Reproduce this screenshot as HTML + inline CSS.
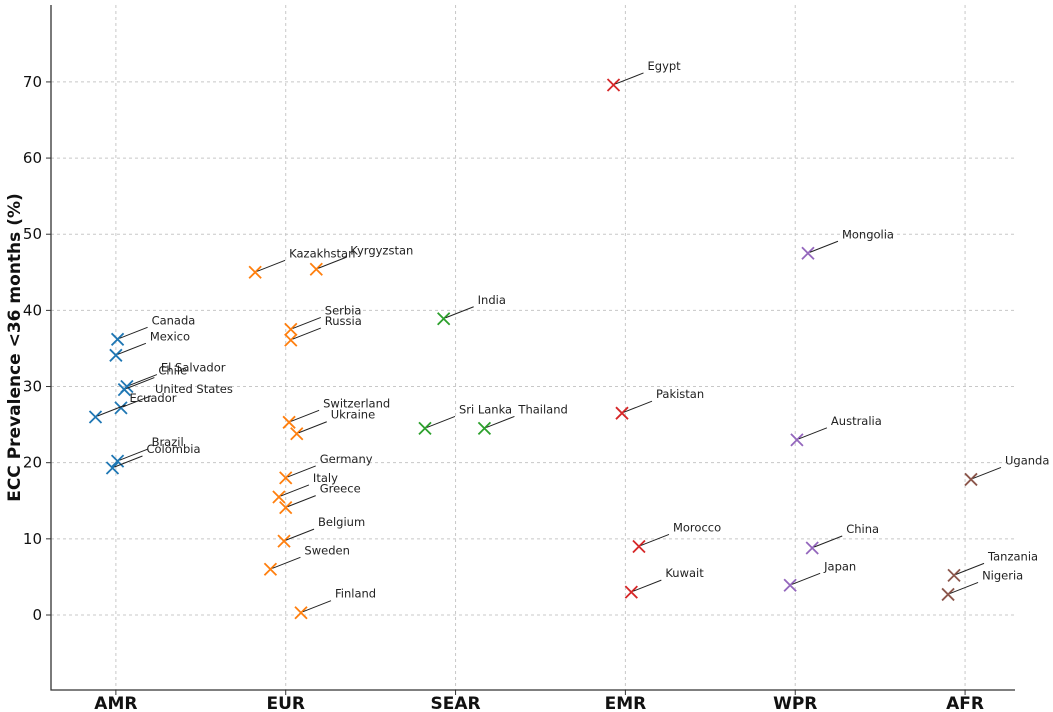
<!DOCTYPE html>
<html><head><meta charset="utf-8"><style>
body{margin:0;background:#fff}
svg{display:block;font-family:"DejaVu Sans","Liberation Sans",sans-serif}
</style></head><body>
<svg id="chart" width="1053" height="712"></svg>
<script>
const categories=["AMR","EUR","SEAR","EMR","WPR","AFR"];
const colors=["#1f77b4","#ff7f0e","#2ca02c","#d62728","#9467bd","#8c564b"];
const countries=["Canada","Mexico","El Salvador","Chile","United States","Ecuador","Brazil","Colombia",
"Kazakhstan","Kyrgyzstan","Serbia","Russia","Switzerland","Ukraine","Germany","Italy","Greece","Belgium","Sweden","Finland",
"India","Sri Lanka","Thailand",
"Egypt","Pakistan","Morocco","Kuwait",
"Mongolia","Australia","China","Japan",
"Uganda","Tanzania","Nigeria"];
const regionIdx=[0,0,0,0,0,0,0,0, 1,1,1,1,1,1,1,1,1,1,1,1, 2,2,2, 3,3,3,3, 4,4,4,4, 5,5,5];
const jitter=[0.01,0,0.065,0.05,0.03,-0.12,0.01,-0.02,
-0.18,0.18,0.03,0.03,0.02,0.065,0,-0.04,0,-0.01,-0.09,0.09,
-0.07,-0.18,0.17,
-0.07,-0.02,0.08,0.035,
0.075,0.01,0.1,-0.03,
0.035,-0.065,-0.1];
const prevalence=[36.2,34.1,30.0,29.6,27.2,26.0,20.2,19.3,
45.0,45.4,37.5,36.1,25.3,23.8,18.0,15.5,14.1,9.7,6.0,0.3,
38.9,24.5,24.5,
69.6,26.5,9.0,3.0,
47.5,23.0,8.8,3.9,
17.8,5.2,2.7];
const yTicks=[0,10,20,30,40,50,60,70];

const svg=document.getElementById('chart');
const NS="http://www.w3.org/2000/svg";
const L=51,R=1015,T=5,B=690;
const yMin=-9.85,yMax=80.1,xMin=-0.382,xMax=5.294;
const xs=v=>L+(v-xMin)/(xMax-xMin)*(R-L);
const ys=v=>B-(v-yMin)/(yMax-yMin)*(B-T);
function mk(tag,attrs,parent){const e=document.createElementNS(NS,tag);for(const k in attrs)e.setAttribute(k,attrs[k]);(parent||svg).appendChild(e);return e;}

const grid=mk('g',{});


yTicks.forEach(t=>{
  const l=mk('line',{x1:L,x2:R,y1:ys(t),y2:ys(t),stroke:"#c8c8c8","stroke-dasharray":"3,3","stroke-width":1},grid);
  
  
  const tk=mk('line',{x1:L-5,x2:L,y1:ys(t),y2:ys(t),stroke:"#333"});
  
  
  const tx=mk('text',{x:L-9,y:ys(t)+5,"text-anchor":"end","font-size":15,fill:"#111"});
  tx.textContent=t;
  
  
});
categories.forEach((c,i)=>{
  const l=mk('line',{x1:xs(i),x2:xs(i),y1:T,y2:B,stroke:"#c8c8c8","stroke-dasharray":"3,3","stroke-width":1},grid);
  
  
  const tk=mk('line',{x1:xs(i),x2:xs(i),y1:B,y2:B+5,stroke:"#333"});
  
  
  const tx=mk('text',{x:xs(i),y:B+19,"text-anchor":"middle","font-size":17,"font-weight":"bold",fill:"#111"});
  tx.textContent=c;
  
  
});
const ax=mk('path',{d:`M${L},${T}V${B}H${R}`,fill:"none",stroke:"#333","stroke-width":1.3});


const yt=mk('text',{x:0,y:0,transform:`translate(20,${(T+B)/2}) rotate(-90)`,"text-anchor":"middle","font-size":17,"font-weight":"bold",fill:"#111"});
yt.textContent="ECC Prevalence <36 months (%)";



countries.forEach((name,i)=>{
  const px=xs(regionIdx[i]+jitter[i]),py=ys(prevalence[i]);
  const g=mk('g',{});
  
  
  const s=6,c=colors[regionIdx[i]];
  mk('path',{d:`M${px-s},${py-s}L${px+s},${py+s}M${px-s},${py+s}L${px+s},${py-s}`,stroke:c,"stroke-width":1.8},g);
  mk('line',{x1:px+2,y1:py-1,x2:px+30,y2:py-12,stroke:"#222","stroke-width":1},g);
  const t=mk('text',{x:px+34,y:py-15,"font-size":11.5,fill:"#222"},g);
  t.textContent=name;
});
</script>
</body></html>
